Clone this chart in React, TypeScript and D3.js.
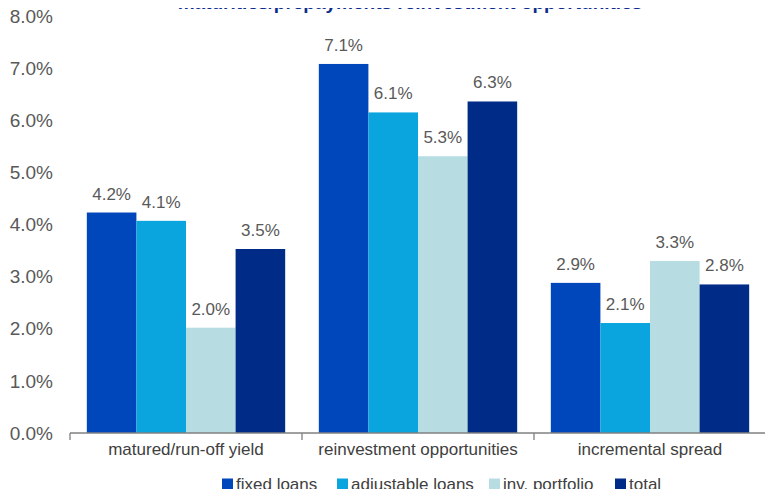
import React from 'react';
import * as d3 from 'd3';

const categories = ['matured/run-off yield', 'reinvestment opportunities', 'incremental spread'];
const seriesNames = ['fixed loans', 'adjustable loans', 'inv. portfolio', 'total'];
const seriesColors = ['#0047BB', '#0AA5DF', '#B7DDE3', '#002B87'];
// values in percent, one row per category
const values = [
  [4.23, 4.07, 2.02, 3.53],
  [7.08, 6.15, 5.31, 6.36],
  [2.88, 2.11, 3.3, 2.85],
];
const valueLabels = [
  ['4.2%', '4.1%', '2.0%', '3.5%'],
  ['7.1%', '6.1%', '5.3%', '6.3%'],
  ['2.9%', '2.1%', '3.3%', '2.8%'],
];
const yTicks = [0, 1, 2, 3, 4, 5, 6, 7, 8];
const title = 'maturities/prepayments reinvestment opportunities';

const W = 773, H = 497;
const margin = {top: 16, right: 7, bottom: 64, left: 70};
const font = '"Liberation Sans", Arial, sans-serif';

export default function App() {
  const x0 = d3.scaleBand().domain(categories).range([margin.left, W - margin.right]).paddingInner(0.145).paddingOuter(0.0725);
  const x1 = d3.scaleBand().domain(seriesNames).range([0, x0.bandwidth()]);
  const y = d3.scaleLinear().domain([0, 8]).range([H - margin.bottom, margin.top]);
  const baseY = y(0);
  const step = (W - margin.right - margin.left) / categories.length;
  const legendX = [222, 337, 489, 615];

  return (
    <div style={{margin: -8}}>
      <svg width={W} height={H} style={{display: 'block', fontFamily: font}}>
        <text x={410} y={8.5} textAnchor="middle" fontSize={19} fontWeight="bold" fill="#0B2C8C">{title}</text>

        {yTicks.map(t => (
          <text key={t} x={53} y={y(t)} dy="0.35em" textAnchor="end" fontSize={19} fill="#595959">
            {d3.format('.1f')(t) + '%'}
          </text>
        ))}

        {categories.map((c, i) => (
          <g key={c}>
            {values[i].map((v, j) => {
              const bx = (x0(c) as number) + (x1(seriesNames[j]) as number);
              return (
                <g key={j}>
                  <rect x={bx} y={y(v)} width={x1.bandwidth()} height={baseY - y(v)} fill={seriesColors[j]} />
                  <text x={bx + x1.bandwidth() / 2} y={y(v) - 13} textAnchor="middle" fontSize={17} fill="#595959">
                    {valueLabels[i][j]}
                  </text>
                </g>
              );
            })}
            <text x={(x0(c) as number) + x0.bandwidth() / 2} y={baseY + 22} textAnchor="middle" fontSize={17} fill="#404040">{c}</text>
          </g>
        ))}

        <line x1={margin.left} x2={W - margin.right} y1={baseY} y2={baseY} stroke="#808080" strokeWidth={1.3} />
        {d3.range(categories.length + 1).map(k => (
          <line key={k} x1={margin.left + k * step} x2={margin.left + k * step} y1={baseY} y2={baseY + 7} stroke="#808080" strokeWidth={1.3} />
        ))}

        {seriesNames.map((s, j) => (
          <g key={s} transform={`translate(${legendX[j]},484)`}>
            <rect x={0} y={-5.5} width={11} height={11} fill={seriesColors[j]} />
            <text x={14} y={0} dy="0.35em" fontSize={17} fill="#404040">{s}</text>
          </g>
        ))}
      </svg>
    </div>
  );
}
